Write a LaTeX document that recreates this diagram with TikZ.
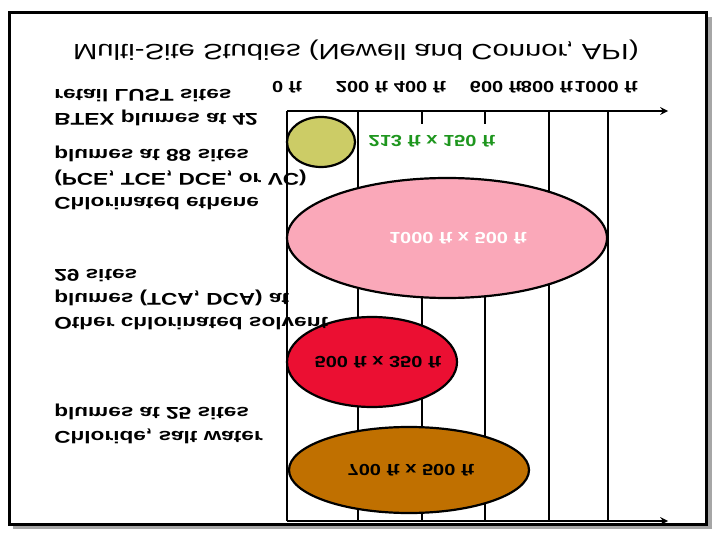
\documentclass[tikz,border=0pt]{standalone}
\usepackage{fontspec}
\usetikzlibrary{shapes.geometric}
\setmainfont{Liberation Sans}
\begin{document}
\begin{tikzpicture}[x=1pt,y=-1pt,
 lbl/.style={anchor=north west,align=left,font=\bfseries\fontsize{17}{24}\selectfont,inner sep=0,transform shape,xscale=1.33,yscale=-1},
 ax/.style={font=\bfseries\fontsize{16}{18}\selectfont,inner sep=0,transform shape,xscale=1.25,yscale=-1},
 ell/.style={draw=black,line width=2.2pt,ellipse,inner sep=0},
 vl/.style={line width=2.4pt}]
\useasboundingbox (0,0) rectangle (720,540);
\fill[gray!70] (13,17) rectangle (712,529);
\fill[white] (9,13) rectangle (706,524);
\draw[line width=3pt] (9,13) rectangle (706,524);
\node[font=\fontsize{22}{24}\selectfont,transform shape,xscale=1.33,yscale=-1] (t) at (356,50) {Multi-Site Studies (Newell and Connor, API)};
\node[ax] (a0) at (287,87) {0 ft};
\node[ax] (a2) at (362,87) {200 ft};
\node[ax] (a4) at (420,87) {400 ft};
\node[ax] (a6) at (496,87) {600 ft};
\node[ax] (a8) at (547,87) {800 ft};
\node[ax] (a10) at (606,87) {1000 ft};
\coordinate (o) at (287,111); \coordinate (e) at (668,111);
\draw[vl,-stealth] (o) -- (e);
\coordinate (ob) at (287,521); \coordinate (eb) at (668,521);
\draw[vl,-stealth] (ob) -- (eb);
\draw[vl] (287,111) -- (287,521);
\draw[vl] (358,111) -- (358,521);
\draw[vl] (422,111) -- (422,124);
\draw[vl] (485,111) -- (485,124);
\draw[vl] (422,290) -- (422,521);
\draw[vl] (485,290) -- (485,521);
\draw[vl] (549,111) -- (549,521);
\draw[vl] (608,111) -- (608,521);
\node[ell,fill={rgb,255:red,204;green,204;blue,102},minimum width=68,minimum height=50] (b) at (321,142) {};
\node[ell,fill={rgb,255:red,250;green,168;blue,185},minimum width=320,minimum height=120] (p) at (447,238) {};
\node[ell,fill={rgb,255:red,235;green,15;blue,50},minimum width=170,minimum height=90] (r) at (372,362) {};
\node[ell,fill={rgb,255:red,192;green,112;blue,0},minimum width=240,minimum height=86] (br) at (409,470) {};
\node[ax,text={rgb,255:red,30;green,150;blue,30}] (tb) at (432,141) {213 ft x 150 ft};
\node[ax,text=white] (tp) at (458,238) {1000 ft x 500 ft};
\node[ax] (tr) at (378,362) {500 ft x 350 ft};
\node[ax] (tbr) at (411,470) {700 ft x 500 ft};
\node[lbl] (l1) at (54,126) {BTEX plumes at 42\\retail LUST sites};
\node[lbl] (l2) at (54,210) {Chlorinated ethene\\(PCE, TCE, DCE, or VC)\\plumes at 88 sites};
\node[lbl] (l3) at (54,330) {Other chlorinated solvent\\plumes (TCA, DCA) at\\29 sites};
\node[lbl] (l4) at (54,444) {Chloride, salt water\\plumes at 25 sites};
\end{tikzpicture}
\end{document}
